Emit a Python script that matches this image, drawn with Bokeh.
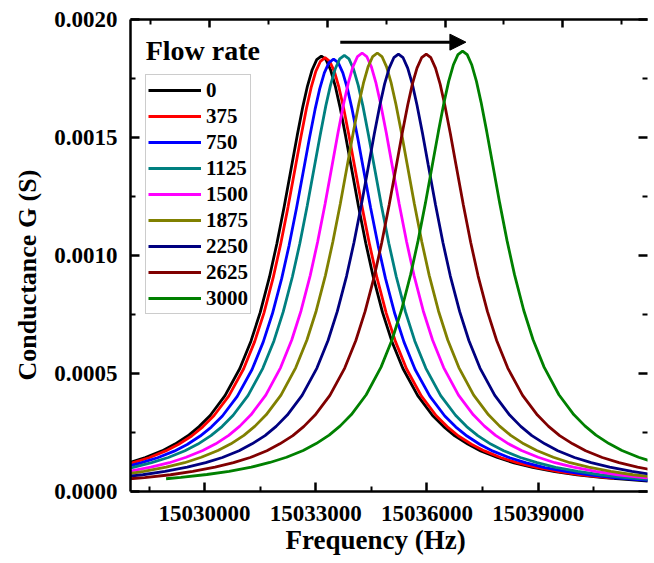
from bokeh.plotting import figure
from bokeh.models import (Range1d, LinearAxis, FixedTicker, NumeralTickFormatter,
                          Legend, LegendItem, Label, Arrow, NormalHead, Title,
                          CustomLabelingPolicy)
from bokeh.embed import file_html
from bokeh.resources import INLINE

# ---------------- data ----------------
flow_rates = ["0", "375", "750", "1125", "1500", "1875", "2250", "2625", "3000"]
colors = ["#000000", "#FF0000", "#0000FF", "#008080", "#FF00FF",
          "#808000", "#000080", "#800000", "#008000"]

freq_0 = [15027950, 15028400, 15028850, 15029200, 15029550, 15029850, 15030150, 15030550, 15030950, 15031250,
          15031500, 15031750, 15031950, 15032150, 15032350, 15032500, 15032650, 15032775, 15032900, 15033025,
          15033150,
          15033275, 15033400, 15033525, 15033650, 15033800, 15033950, 15034150, 15034350, 15034550, 15034800,
          15035050, 15035350, 15035750, 15036150, 15036450, 15036750, 15037100, 15037450, 15037900, 15038350,
          15038850, 15039450, 15040050, 15040750, 15041450, 15042150]
cond_0 = [121e-6, 144e-6, 172e-6, 201e-6, 236e-6, 275e-6, 322e-6, 406e-6, 521e-6, 637e-6,
          759e-6, 909e-6, 1051e-6, 1210e-6, 1381e-6, 1510e-6, 1631e-6, 1718e-6, 1786e-6, 1830e-6,
          1845e-6,
          1830e-6, 1786e-6, 1718e-6, 1631e-6, 1510e-6, 1381e-6, 1210e-6, 1051e-6, 909e-6, 759e-6,
          637e-6, 521e-6, 406e-6, 322e-6, 275e-6, 236e-6, 201e-6, 172e-6, 144e-6, 121e-6,
          102e-6, 84e-6, 71e-6, 59e-6, 50e-6, 42e-6]

freq_375 = [15027550, 15028050, 15028500, 15028950, 15029300, 15029650, 15029950, 15030250, 15030650, 15031050,
            15031350, 15031600, 15031850, 15032050, 15032250, 15032450, 15032600, 15032750, 15032875, 15033000,
            15033125,
            15033250,
            15033375, 15033500, 15033625, 15033750, 15033900, 15034050, 15034250, 15034450, 15034650, 15034900,
            15035150, 15035450, 15035850, 15036250, 15036550, 15036850, 15037200, 15037550, 15038000, 15038450,
            15038950, 15039550, 15040150, 15041050]
cond_375 = [102e-6, 121e-6, 143e-6, 172e-6, 200e-6, 235e-6, 274e-6, 321e-6, 404e-6, 519e-6,
            635e-6, 756e-6, 906e-6, 1047e-6, 1205e-6, 1376e-6, 1504e-6, 1625e-6, 1712e-6, 1780e-6,
            1823e-6,
            1838e-6,
            1823e-6, 1780e-6, 1712e-6, 1625e-6, 1504e-6, 1376e-6, 1205e-6, 1047e-6, 906e-6, 756e-6,
            635e-6, 519e-6, 404e-6, 321e-6, 274e-6, 235e-6, 200e-6, 172e-6, 143e-6, 121e-6,
            102e-6, 84e-6, 71e-6, 56e-6]

freq_750 = [15027780, 15028280, 15028730, 15029180, 15029530, 15029880, 15030180, 15030480, 15030880, 15031280,
            15031580, 15031830, 15032080, 15032280, 15032480, 15032680, 15032830, 15032980, 15033105, 15033230,
            15033355,
            15033480,
            15033605, 15033730, 15033855, 15033980, 15034130, 15034280, 15034480, 15034680, 15034880, 15035130,
            15035380, 15035680, 15036080, 15036480, 15036780, 15037080, 15037430, 15037780, 15038230, 15038680,
            15039180, 15039780, 15040380, 15041080, 15041780, 15042480]
cond_750 = [101e-6, 121e-6, 143e-6, 171e-6, 199e-6, 235e-6, 273e-6, 320e-6, 403e-6, 517e-6,
            633e-6, 754e-6, 903e-6, 1043e-6, 1201e-6, 1371e-6, 1499e-6, 1619e-6, 1706e-6, 1774e-6,
            1817e-6,
            1832e-6,
            1817e-6, 1774e-6, 1706e-6, 1619e-6, 1499e-6, 1371e-6, 1201e-6, 1043e-6, 903e-6, 754e-6,
            633e-6, 517e-6, 403e-6, 320e-6, 273e-6, 235e-6, 199e-6, 171e-6, 143e-6, 121e-6,
            101e-6, 84e-6, 70e-6, 58e-6, 49e-6, 42e-6]

freq_1125 = [15027470, 15028070, 15028570, 15029020, 15029470, 15029820, 15030170, 15030470, 15030770, 15031170,
             15031570, 15031870, 15032120, 15032370, 15032570, 15032770, 15032970, 15033120, 15033270, 15033395,
             15033520, 15033645,
             15033770,
             15033895, 15034020, 15034145, 15034270, 15034420, 15034570, 15034770, 15034970, 15035170, 15035420,
             15035670, 15035970, 15036370, 15036770, 15037070, 15037370, 15037720, 15038070, 15038520, 15038970,
             15039470, 15040070, 15040670, 15041370, 15042070]
cond_1125 = [85e-6, 102e-6, 122e-6, 144e-6, 173e-6, 201e-6, 237e-6, 275e-6, 323e-6, 406e-6,
             522e-6, 638e-6, 761e-6, 911e-6, 1052e-6, 1212e-6, 1383e-6, 1512e-6, 1634e-6, 1721e-6,
             1789e-6, 1833e-6,
             1848e-6,
             1833e-6, 1789e-6, 1721e-6, 1634e-6, 1512e-6, 1383e-6, 1212e-6, 1052e-6, 911e-6, 761e-6,
             638e-6, 522e-6, 406e-6, 323e-6, 275e-6, 237e-6, 201e-6, 173e-6, 144e-6, 122e-6,
             102e-6, 85e-6, 71e-6, 59e-6, 50e-6]

freq_1500 = [15027950, 15028550, 15029050, 15029500, 15029950, 15030300, 15030650, 15030950, 15031250, 15031650,
             15032050, 15032350, 15032600, 15032850, 15033050, 15033250, 15033450, 15033600, 15033750, 15033875,
             15034000, 15034125,
             15034250,
             15034375, 15034500, 15034625, 15034750, 15034900, 15035050, 15035250, 15035450, 15035650, 15035900,
             15036150, 15036450, 15036850, 15037250, 15037550, 15037850, 15038200, 15038550, 15039000, 15039450,
             15039950, 15040550, 15041150, 15041850, 15042550]
cond_1500 = [85e-6, 103e-6, 122e-6, 145e-6, 174e-6, 202e-6, 238e-6, 277e-6, 325e-6, 408e-6,
             525e-6, 642e-6, 765e-6, 916e-6, 1058e-6, 1218e-6, 1391e-6, 1521e-6, 1642e-6, 1730e-6,
             1799e-6, 1843e-6,
             1858e-6,
             1843e-6, 1799e-6, 1730e-6, 1642e-6, 1521e-6, 1391e-6, 1218e-6, 1058e-6, 916e-6, 765e-6,
             642e-6, 525e-6, 408e-6, 325e-6, 277e-6, 238e-6, 202e-6, 174e-6, 145e-6, 122e-6,
             103e-6, 85e-6, 71e-6, 59e-6, 50e-6]

freq_1875 = [15027760, 15028360, 15028960, 15029460, 15029910, 15030360, 15030710, 15031060, 15031360, 15031660,
             15032060, 15032460, 15032760, 15033010, 15033260, 15033460, 15033660, 15033860, 15034010, 15034160,
             15034285, 15034410, 15034535,
             15034660,
             15034785, 15034910, 15035035, 15035160, 15035310, 15035460, 15035660, 15035860, 15036060, 15036310,
             15036560, 15036860, 15037260, 15037660, 15037960, 15038260, 15038610, 15038960, 15039410, 15039860,
             15040360, 15040960, 15041560, 15042260]
cond_1875 = [71e-6, 85e-6, 103e-6, 122e-6, 145e-6, 174e-6, 202e-6, 238e-6, 277e-6, 325e-6,
             408e-6, 525e-6, 642e-6, 765e-6, 916e-6, 1058e-6, 1218e-6, 1391e-6, 1521e-6, 1642e-6,
             1730e-6, 1799e-6, 1843e-6,
             1858e-6,
             1843e-6, 1799e-6, 1730e-6, 1642e-6, 1521e-6, 1391e-6, 1218e-6, 1058e-6, 916e-6, 765e-6,
             642e-6, 525e-6, 408e-6, 325e-6, 277e-6, 238e-6, 202e-6, 174e-6, 145e-6, 122e-6,
             103e-6, 85e-6, 71e-6, 59e-6]

freq_2250 = [15027630, 15028330, 15028930, 15029530, 15030030, 15030480, 15030930, 15031280, 15031630, 15031930,
             15032230, 15032630, 15033030, 15033330, 15033580, 15033830, 15034030, 15034230, 15034430, 15034580,
             15034730, 15034855, 15034980, 15035105,
             15035230,
             15035355, 15035480, 15035605, 15035730, 15035880, 15036030, 15036230, 15036430, 15036630, 15036880,
             15037130, 15037430, 15037830, 15038230, 15038530, 15038830, 15039180, 15039530, 15039980, 15040430,
             15040930, 15041530, 15042130]
cond_2250 = [59e-6, 71e-6, 85e-6, 103e-6, 122e-6, 144e-6, 173e-6, 202e-6, 237e-6, 276e-6,
             324e-6, 407e-6, 523e-6, 640e-6, 763e-6, 913e-6, 1055e-6, 1215e-6, 1387e-6, 1517e-6,
             1638e-6, 1726e-6, 1794e-6, 1838e-6,
             1853e-6,
             1838e-6, 1794e-6, 1726e-6, 1638e-6, 1517e-6, 1387e-6, 1215e-6, 1055e-6, 913e-6, 763e-6,
             640e-6, 523e-6, 407e-6, 324e-6, 276e-6, 237e-6, 202e-6, 173e-6, 144e-6, 122e-6,
             103e-6, 85e-6, 71e-6]

freq_2625 = [15027680, 15028380, 15029080, 15029680, 15030280, 15030780, 15031230, 15031680, 15032030, 15032380,
             15032680, 15032980, 15033380, 15033780, 15034080, 15034330, 15034580, 15034780, 15034980, 15035180,
             15035330, 15035480, 15035605, 15035730, 15035855,
             15035980,
             15036105, 15036230, 15036355, 15036480, 15036630, 15036780, 15036980, 15037180, 15037380, 15037630,
             15037880, 15038180, 15038580, 15038980, 15039280, 15039580, 15039930, 15040280, 15040730, 15041180,
             15041680, 15042280]
cond_2625 = [50e-6, 59e-6, 71e-6, 85e-6, 103e-6, 122e-6, 144e-6, 173e-6, 202e-6, 237e-6,
             276e-6, 324e-6, 407e-6, 523e-6, 640e-6, 763e-6, 913e-6, 1055e-6, 1215e-6, 1387e-6,
             1517e-6, 1638e-6, 1726e-6, 1794e-6, 1838e-6,
             1853e-6,
             1838e-6, 1794e-6, 1726e-6, 1638e-6, 1517e-6, 1387e-6, 1215e-6, 1055e-6, 913e-6, 763e-6,
             640e-6, 523e-6, 407e-6, 324e-6, 276e-6, 237e-6, 202e-6, 173e-6, 144e-6, 122e-6,
             103e-6, 85e-6]

freq_3000 = [15028960, 15029360, 15030060, 15030660, 15031260, 15031760, 15032210, 15032660, 15033010, 15033360,
             15033660, 15033960, 15034360, 15034760, 15035060, 15035310, 15035560, 15035760, 15035960, 15036160,
             15036310, 15036460, 15036585, 15036710, 15036835,
             15036960,
             15037085, 15037210, 15037335, 15037460, 15037610, 15037760, 15037960, 15038160, 15038360, 15038610,
             15038860, 15039160, 15039560, 15039960, 15040260, 15040560, 15040910, 15041260, 15041710, 15042160]
cond_3000 = [54e-6, 60e-6, 72e-6, 85e-6, 103e-6, 123e-6, 145e-6, 174e-6, 203e-6, 239e-6,
             278e-6, 326e-6, 410e-6, 527e-6, 644e-6, 768e-6, 920e-6, 1063e-6, 1224e-6, 1397e-6,
             1527e-6, 1649e-6, 1738e-6, 1807e-6, 1851e-6,
             1866e-6,
             1851e-6, 1807e-6, 1738e-6, 1649e-6, 1527e-6, 1397e-6, 1224e-6, 1063e-6, 920e-6, 768e-6,
             644e-6, 527e-6, 410e-6, 326e-6, 278e-6, 239e-6, 203e-6, 174e-6, 145e-6, 123e-6]

freqs = [freq_0, freq_375, freq_750, freq_1125, freq_1500, freq_1875, freq_2250, freq_2625, freq_3000]
conds = [cond_0, cond_375, cond_750, cond_1125, cond_1500, cond_1875, cond_2250, cond_2625, cond_3000]

x_major = [15030000, 15033000, 15036000, 15039000]
x_minor = [15028500, 15031500, 15034500, 15037500, 15040500]
y_major = [0.0, 0.0005, 0.0010, 0.0015, 0.0020]
y_minor = [0.00025, 0.00075, 0.00125, 0.00175]

# annotation (arrow showing the shift of the resonance)
arrow_x = [15033660, 15037050]
arrow_y = 0.001904

# ---------------- figure ----------------
FONT = "Liberation Serif"

p = figure(width=654, height=563, output_backend="svg", toolbar_location=None,
           x_range=Range1d(15028000, 15041950), y_range=Range1d(0.0, 0.0020),
           x_axis_type=None, y_axis_type=None,
           min_border_left=127, min_border_right=0, min_border_top=19, min_border_bottom=72)
p.background_fill_color = "white"
p.border_fill_color = "white"
p.outline_line_color = None
p.extra_x_ranges = {"top": Range1d(-0.345, 8.44)}

hide_labels = CustomLabelingPolicy(code="for (const i of indices) { indices.unset(i) }\nreturn indices")


def style_axis(ax, labels=True):
    ax.axis_line_width = 2.5
    ax.major_tick_line_width = 2.5
    ax.minor_tick_line_width = 2
    ax.major_tick_in = 9
    ax.major_tick_out = 0
    ax.minor_tick_in = 5
    ax.minor_tick_out = 0
    ax.major_label_text_font = FONT
    ax.major_label_text_font_style = "bold"
    ax.major_label_text_color = "black"
    if labels:
        ax.major_label_text_font_size = "23px"
    else:
        ax.major_label_text_font_size = "1px"
        ax.major_label_standoff = 0
        ax.major_label_policy = hide_labels


xa = LinearAxis(ticker=FixedTicker(ticks=x_major, minor_ticks=x_minor),
                formatter=NumeralTickFormatter(format="0"))
style_axis(xa)
xa.major_label_standoff = 14
p.add_layout(xa, "below")

ya = LinearAxis(ticker=FixedTicker(ticks=y_major, minor_ticks=y_minor),
                formatter=NumeralTickFormatter(format="0.0000"))
style_axis(ya)
ya.major_label_standoff = 13
p.add_layout(ya, "left")

# right edge of the frame is cut off in the original: only its inward ticks show
ra = LinearAxis(ticker=FixedTicker(ticks=y_major, minor_ticks=y_minor))
style_axis(ra, labels=False)
ra.axis_line_color = None
p.add_layout(ra, "right")

ta = LinearAxis(x_range_name="top", ticker=FixedTicker(ticks=[1, 3, 5, 7], minor_ticks=[0, 2, 4, 6, 8]))
style_axis(ta, labels=False)
ta.major_tick_in = 8
p.add_layout(ta, "above")

# axis titles (placed as titles so that they can sit off-centre like the original)
x_title = Title(text="Frequency (Hz)", align="left", offset=155, standoff=2, vertical_align="top",
                text_font=FONT, text_font_style="bold", text_font_size="27px", text_color="black")
p.add_layout(x_title, "below")
y_title = Title(text="Conductance G (S)", align="left", offset=111, standoff=20,
                text_font=FONT, text_font_style="bold", text_font_size="26px", text_color="black")
p.add_layout(y_title, "left")

items = []
for lab, col, fx, gy in zip(flow_rates, colors, freqs, conds):
    r = p.line(fx, gy, line_color=col, line_width=2.8)
    items.append(LegendItem(label=lab, renderers=[r]))

legend = Legend(items=items, location=(15, 177), orientation="vertical",
                glyph_width=53, glyph_height=26, label_height=26, label_standoff=5,
                spacing=0, padding=2, margin=0,
                border_line_color="#999999", border_line_width=1,
                background_fill_color="white", background_fill_alpha=1.0,
                label_text_font=FONT, label_text_font_style="bold",
                label_text_font_size="21px", label_text_color="black")
p.add_layout(legend)

flow_title = Label(x=15028411, y=0.001869, text="Flow rate", text_font=FONT, text_font_style="bold",
                   text_font_size="28px", text_baseline="middle", text_align="left", text_color="black")
p.add_layout(flow_title)

arrow = Arrow(end=NormalHead(size=16, fill_color="black", line_color="black"),
              x_start=arrow_x[0], y_start=arrow_y, x_end=arrow_x[1], y_end=arrow_y,
              line_width=3, line_color="black")
p.add_layout(arrow)

open("out.html", "w").write(file_html(p, INLINE))
